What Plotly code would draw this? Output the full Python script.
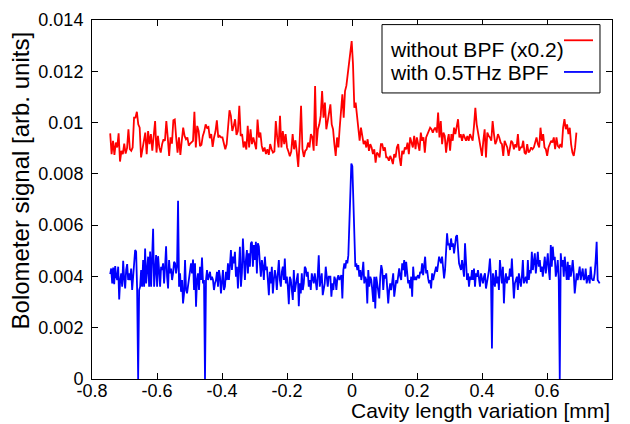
import numpy as np
import plotly.graph_objects as go

# ---------------- data ----------------
# Red: "without BPF (x0.2)" -- two scan segments
red_a_x_range = (-0.744, -0.0747)
red_a_y = [
    0.00958, 0.00877, 0.00929, 0.00874, 0.00922, 0.00903, 0.00958, 0.00848, 0.00890, 0.00877,
    0.00918, 0.00879, 0.00900, 0.00974, 0.00896, 0.00890, 0.00903, 0.01019, 0.01019, 0.01042,
    0.00993, 0.00980, 0.00864, 0.00896, 0.00929, 0.00961, 0.00877, 0.00967, 0.00916, 0.00955,
    0.00890, 0.00942, 0.01006, 0.00883, 0.00948, 0.00903, 0.00883, 0.00916, 0.00935, 0.00929,
    0.01006, 0.00942, 0.00870, 0.00942, 0.00918, 0.01009, 0.01012, 0.00942, 0.00883, 0.00942,
    0.00874, 0.00929, 0.00980, 0.00948, 0.00935, 0.00942, 0.00910, 0.00918, 0.00922, 0.00929,
    0.01042, 0.00903, 0.00987, 0.00967, 0.00908, 0.00913, 0.00948, 0.00965, 0.00993, 0.00980,
    0.00983, 0.00939, 0.00955, 0.00905, 0.00942, 0.00965, 0.01009, 0.00942, 0.00948, 0.00942,
    0.00942, 0.00922, 0.00896, 0.00916, 0.00980, 0.01048, 0.01026, 0.00967, 0.00987, 0.01013,
    0.00952, 0.00967, 0.01065, 0.00948, 0.00955, 0.00903, 0.00926, 0.00895, 0.00987, 0.00903,
    0.00974, 0.00916, 0.00942, 0.00913, 0.00896, 0.01012, 0.00942, 0.00961, 0.00909, 0.00887,
    0.00903, 0.00877, 0.00896, 0.00874, 0.00916, 0.00896, 0.00883, 0.00887, 0.01006, 0.00942,
    0.00903, 0.01026, 0.00903, 0.00967, 0.00916, 0.00955, 0.00903, 0.00887, 0.00869, 0.00887,
    0.00955, 0.00896, 0.00931, 0.00883, 0.00827, 0.00929, 0.01065, 0.00896, 0.00866, 0.00890,
    0.00896, 0.00922, 0.00903, 0.00955, 0.00944, 0.00890, 0.01143, 0.00909, 0.00974, 0.00993,
    0.01026, 0.01123, 0.01019, 0.01078, 0.00974, 0.01006,
]
red_b_x_range = (-0.0665, 0.6905)
red_b_y = [
    0.01071, 0.00993, 0.00974, 0.00916, 0.00870, 0.00942, 0.00903, 0.00980, 0.01045, 0.01110,
    0.01019, 0.01123, 0.01143, 0.01188, 0.01247, 0.01279, 0.01318, 0.01227, 0.01058, 0.01078,
    0.01019, 0.00955,
    0.00929, 0.00980, 0.00948, 0.00916, 0.00929, 0.00903, 0.00935, 0.00890, 0.00916, 0.00903,
    0.00877, 0.00896, 0.00844, 0.00883, 0.00877, 0.00864, 0.00916, 0.00916, 0.00890, 0.00903,
    0.00864, 0.00864, 0.00851, 0.00870, 0.00857, 0.00838, 0.00877, 0.00864, 0.00903, 0.00916,
    0.00864, 0.00831, 0.00890, 0.00877, 0.00903, 0.00896, 0.00922, 0.00877, 0.00942, 0.00916,
    0.00903, 0.00948, 0.00896, 0.00942, 0.00916, 0.00890, 0.00961, 0.00929, 0.00942, 0.00883,
    0.00942, 0.00955, 0.00961, 0.00980, 0.00974, 0.00961, 0.00974, 0.00980, 0.00961, 0.01039,
    0.00942, 0.01006, 0.00916, 0.00961, 0.00948, 0.00883, 0.00929, 0.00955, 0.00890, 0.00955,
    0.00929, 0.00980, 0.00955, 0.00987, 0.01013, 0.00942, 0.00955, 0.00929, 0.00955, 0.00942,
    0.00929, 0.00948, 0.00929, 0.00955, 0.00942, 0.00929, 0.00987, 0.01058, 0.00993, 0.00961,
    0.00935, 0.00903, 0.00870, 0.00929, 0.00974, 0.00864, 0.00961, 0.00948, 0.00942, 0.00929,
    0.01006, 0.00955, 0.00916, 0.00929, 0.00955, 0.00942, 0.00922, 0.00916, 0.00870, 0.00929,
    0.00916, 0.00903, 0.00870, 0.00909, 0.00929, 0.00922, 0.00896, 0.00916, 0.00903, 0.00955,
    0.00890, 0.00903, 0.00903, 0.00929, 0.00883, 0.00877, 0.00916, 0.00883, 0.00890, 0.00903,
    0.00896, 0.00903, 0.00929, 0.00942, 0.00916, 0.00903, 0.00980, 0.00929, 0.00955, 0.00903,
    0.00896, 0.00870, 0.00903, 0.00916, 0.00929, 0.00922, 0.00942, 0.00896, 0.00942, 0.00909,
    0.00903, 0.00916, 0.00903, 0.00980, 0.01013, 0.00974, 0.00993, 0.00955, 0.00980, 0.00916,
    0.00883, 0.00870, 0.00903, 0.00961,
]

# Blue: "with 0.5THz BPF" -- two scan segments
blue_a_x_range = (-0.744, -0.0716)
blue_a_y = [
    0.00409, 0.00431, 0.00373, 0.00435, 0.00370, 0.00440, 0.00399, 0.00386, 0.00438, 0.00310,
    0.00386, 0.00412, 0.00360, 0.00461, 0.00392, 0.00353, 0.00427, 0.00448, 0.00386, 0.00412,
    0.00386, 0.00431, 0.00347, 0.00412, 0.00477, 0.00503, 0.00496, 0.00347, 0.0, 0.00347,
    0.00360, 0.00425, 0.00360, 0.00464, 0.00360, 0.00509, 0.00373, 0.00431, 0.00477, 0.00360,
    0.00497, 0.00360, 0.00464, 0.00586, 0.00360, 0.00438, 0.00483, 0.00360, 0.00479, 0.00425,
    0.00360, 0.00438, 0.00425, 0.00451, 0.00373, 0.00438, 0.00518, 0.00399, 0.00353, 0.00464,
    0.00412, 0.00431, 0.00386, 0.00412, 0.00457, 0.00451, 0.00412, 0.00438, 0.00695, 0.00360,
    0.00412, 0.00340, 0.00386, 0.00295, 0.00334, 0.00464, 0.00347, 0.00334, 0.00360, 0.00386,
    0.00412, 0.00451, 0.00412, 0.00466, 0.00347, 0.00451, 0.00282, 0.00386, 0.00412, 0.00347,
    0.00438, 0.00386, 0.00474, 0.00373, 0.00386, 0.0, 0.00386, 0.00425, 0.00386, 0.00405,
    0.00418, 0.00386, 0.00399, 0.00386, 0.00347, 0.00373, 0.00386, 0.00418, 0.00360, 0.00425,
    0.00399, 0.00334, 0.00386, 0.00425, 0.00347, 0.00360, 0.00418, 0.00386, 0.00451, 0.00386,
    0.00444, 0.00503, 0.00425, 0.00477, 0.00451, 0.00496, 0.00399, 0.00438, 0.00353, 0.00464,
    0.00516, 0.00360, 0.00414, 0.00548, 0.00438, 0.00386, 0.00464, 0.00503, 0.00412, 0.00490,
    0.00438, 0.00529, 0.00535, 0.00438, 0.00522, 0.00464, 0.00535, 0.00412, 0.00529, 0.00516,
    0.00451, 0.00399, 0.00464, 0.00438, 0.00386, 0.00477, 0.00425, 0.00438, 0.00386, 0.00327,
    0.00418, 0.00373, 0.00438, 0.00334, 0.00386, 0.00425, 0.00399, 0.00347, 0.00412, 0.00464,
    0.00386, 0.00360, 0.00418, 0.00438, 0.00386, 0.00470, 0.00373, 0.00399, 0.00360, 0.00292,
    0.00399, 0.00386, 0.00347, 0.00308, 0.00425, 0.00340, 0.00366, 0.00386, 0.00412, 0.00284,
    0.00373, 0.00334, 0.00412, 0.00347, 0.00373, 0.00438, 0.00431, 0.00399, 0.00418, 0.00360,
    0.00386, 0.00347, 0.00412, 0.00392, 0.00373, 0.00412, 0.00373, 0.00347, 0.00405, 0.00482,
    0.00360, 0.00386, 0.00412, 0.00327, 0.00360, 0.00373, 0.00438, 0.00386, 0.00360, 0.00399,
]
blue_b_x_range = (-0.0665, 0.762)
blue_b_y = [
    0.00399, 0.00321, 0.00373, 0.00347, 0.00399, 0.00386, 0.00347, 0.00392, 0.00405, 0.00386,
    0.00399, 0.00405, 0.00314, 0.00425, 0.00451, 0.00431, 0.00464, 0.00451, 0.00483, 0.00594,
    0.00710, 0.00840, 0.00830, 0.00697, 0.00516, 0.00438, 0.00451, 0.00425, 0.00444, 0.00399,
    0.00425, 0.00386, 0.00412, 0.00457, 0.00373, 0.00399, 0.00386, 0.00295, 0.00425, 0.00360,
    0.00399, 0.00386, 0.00347, 0.00301, 0.00399, 0.00275, 0.00399, 0.00373, 0.00334, 0.00314,
    0.00399, 0.00444, 0.00425, 0.00347, 0.00405, 0.00392, 0.00412, 0.00360, 0.00295, 0.00347,
    0.00373, 0.00347, 0.00386, 0.00412, 0.00321, 0.00360, 0.00386, 0.00373, 0.00399, 0.00431,
    0.00399, 0.00386, 0.00451, 0.00425, 0.00464, 0.00399, 0.00457, 0.00425, 0.00373, 0.00386,
    0.00353, 0.00399, 0.00321, 0.00438, 0.00386, 0.00399, 0.00386, 0.00399, 0.00405, 0.00392,
    0.00418, 0.00412, 0.00451, 0.00405, 0.00438, 0.00477, 0.00412, 0.00425, 0.00392, 0.00373,
    0.00386, 0.00353, 0.00412, 0.00386, 0.00405, 0.00431, 0.00438, 0.00418, 0.00451, 0.00477,
    0.00464, 0.00451, 0.00477, 0.00438, 0.00392, 0.00425, 0.00477, 0.00568, 0.00522, 0.00529,
    0.00503, 0.00548, 0.00516, 0.00529, 0.00490, 0.00516, 0.00555, 0.00561, 0.00490, 0.00451,
    0.00438, 0.00425, 0.00464, 0.00438, 0.00399, 0.00529, 0.00464, 0.00386, 0.00412, 0.00360,
    0.00399, 0.00386, 0.00425, 0.00386, 0.00431, 0.00360, 0.00412, 0.00399, 0.00425, 0.00386,
    0.00360, 0.00412, 0.00386, 0.00373, 0.00399, 0.00412, 0.00353, 0.00386, 0.00399, 0.00425,
    0.00470, 0.00399, 0.00119, 0.00412, 0.00386, 0.00360, 0.00425, 0.00373, 0.00399, 0.00347,
    0.00464, 0.00399, 0.00373, 0.00438, 0.00295, 0.00386, 0.00412, 0.00373, 0.00399, 0.00386,
    0.00431, 0.00399, 0.00470, 0.00386, 0.00314, 0.00373, 0.00386, 0.00399, 0.00347, 0.00412,
    0.00386, 0.00360, 0.00399, 0.00464, 0.00373, 0.00386, 0.00399, 0.00373, 0.00464, 0.00386,
    0.00425, 0.00412, 0.00496, 0.00425, 0.00464, 0.00490, 0.00412, 0.00477, 0.00496, 0.00438,
    0.00464, 0.00418, 0.00438, 0.00399, 0.00451, 0.00477, 0.00412, 0.00444, 0.00490, 0.00425,
    0.00386, 0.00522, 0.00438, 0.00516, 0.00464, 0.00477, 0.00399, 0.00425, 0.00464, 0.00386,
    0.0, 0.00490, 0.00438, 0.00464, 0.00399, 0.00477, 0.00438, 0.00386, 0.00457, 0.00386,
    0.00444, 0.00399, 0.00425, 0.00464, 0.00412, 0.00334, 0.00373, 0.00412, 0.00386, 0.00425,
    0.00438, 0.00386, 0.00405, 0.00431, 0.00386, 0.00392, 0.00431, 0.00373, 0.00392, 0.00405,
    0.00373, 0.00438, 0.00392, 0.00386, 0.00386, 0.00412, 0.00464, 0.00535, 0.00386, 0.00379,
    0.00373,
]

series_names = ["without BPF (x0.2)", "with 0.5THz BPF"]
x_tick_vals = [-0.8, -0.6, -0.4, -0.2, 0, 0.2, 0.4, 0.6, 0.8]
x_tick_text = ["-0.8", "-0.6", "-0.4", "-0.2", "0", "0.2", "0.4", "0.6", "0.8"]
y_tick_vals = [0, 0.002, 0.004, 0.006, 0.008, 0.01, 0.012, 0.014]
y_tick_text = ["0", "0.002", "0.004", "0.006", "0.008", "0.01", "0.012", "0.014"]
x_title = "Cavity length variation [mm]"
y_title = "Bolometer signal [arb. units]"

# ---------------- build ----------------
def scan_x(rng, vals):
    return np.linspace(rng[0], rng[1], len(vals))

red_x = np.concatenate([scan_x(red_a_x_range, red_a_y), scan_x(red_b_x_range, red_b_y)])
red_y = np.array(red_a_y + red_b_y)
blue_x = np.concatenate([scan_x(blue_a_x_range, blue_a_y), scan_x(blue_b_x_range, blue_b_y)])
blue_y = np.array(blue_a_y + blue_b_y)

RED = "#ff0000"
BLUE = "#0000ff"
FONT = "Liberation Sans"

fig = go.Figure()
fig.add_trace(go.Scatter(x=blue_x, y=blue_y, mode="lines", name=series_names[1],
                         line=dict(color=BLUE, width=1.8), showlegend=False))
fig.add_trace(go.Scatter(x=red_x, y=red_y, mode="lines", name=series_names[0],
                         line=dict(color=RED, width=1.8), showlegend=False))

axis_common = dict(showline=True, linecolor="black", linewidth=1, mirror="ticks",
                   ticks="inside", ticklen=6, tickwidth=1, tickcolor="black",
                   showgrid=False, zeroline=False,
                   tickfont=dict(family=FONT, size=18, color="black"))

fig.update_xaxes(range=[-0.8, 0.8], tickvals=x_tick_vals, ticktext=x_tick_text,
                 ticklabelstandoff=-5, **axis_common)
fig.update_yaxes(range=[0, 0.014], tickvals=y_tick_vals, ticktext=y_tick_text,
                 ticklabelstandoff=4, **axis_common)

annotations = [
    dict(text=x_title, xref="paper", yref="paper", x=1.0, y=0, xanchor="right",
         yanchor="middle", yshift=-31, showarrow=False,
         font=dict(family=FONT, size=21, color="black")),
    dict(text=y_title, xref="paper", yref="paper", x=-0.138, y=0.551, xanchor="center",
         yanchor="middle", textangle=-90, showarrow=False,
         font=dict(family=FONT, size=24, color="black")),
    dict(text=series_names[0], xref="paper", yref="paper", x=0.5692, y=0.917,
         xanchor="left", yanchor="middle", showarrow=False,
         font=dict(family=FONT, size=21, color="black")),
    dict(text=series_names[1], xref="paper", yref="paper", x=0.5692, y=0.853,
         xanchor="left", yanchor="middle", showarrow=False,
         font=dict(family=FONT, size=21, color="black")),
]

shapes = [
    dict(type="rect", xref="paper", yref="paper", x0=0.5577, x1=0.9769, y0=0.7968, y1=0.9872,
         line=dict(color="black", width=1), fillcolor="white", layer="above"),
    dict(type="line", xref="paper", yref="paper", x0=0.9077, x1=0.9635, y0=0.9435, y1=0.9435,
         line=dict(color=RED, width=1.8)),
    dict(type="line", xref="paper", yref="paper", x0=0.9077, x1=0.9635, y0=0.8553, y1=0.8553,
         line=dict(color=BLUE, width=1.8)),
]

# The page body has an 8px margin; size the figure so the plot area lands where
# the reference has it (x 92..612, y 20..379).
fig.update_layout(
    width=614, height=416,
    margin=dict(l=84, r=10, t=12, b=45, autoexpand=False),
    paper_bgcolor="white", plot_bgcolor="white",
    font=dict(family=FONT, color="black"),
    annotations=annotations, shapes=shapes,
    showlegend=False,
)

fig.write_html("out.html")
